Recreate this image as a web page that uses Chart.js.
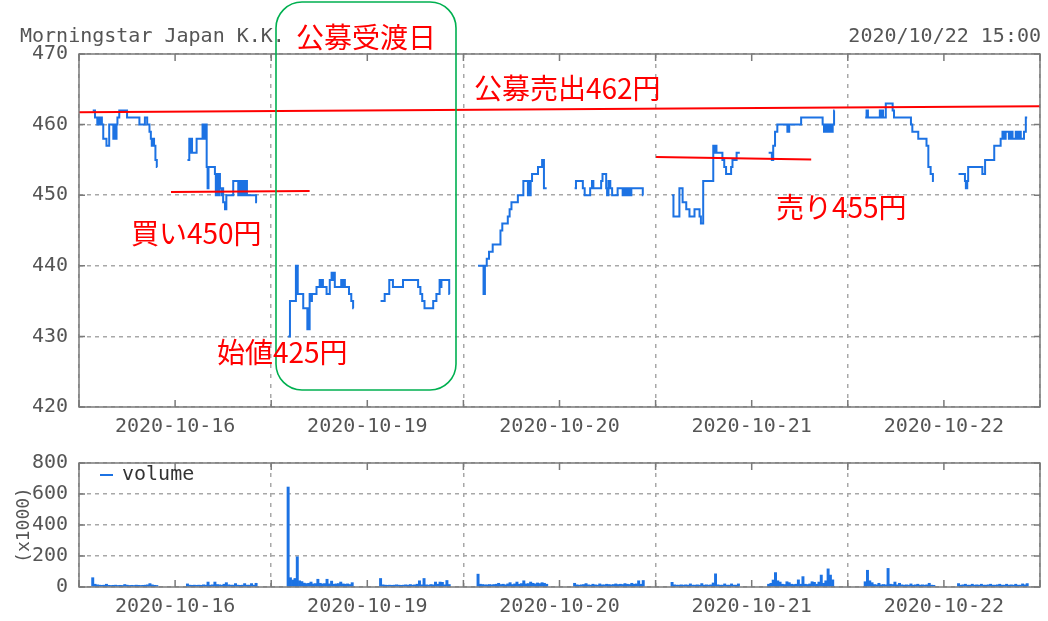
<!DOCTYPE html>
<html>
<head>
<meta charset="utf-8">
<script src="https://cdn.jsdelivr.net/npm/chart.js@4.4.1/dist/chart.umd.min.js"></script>
<style>
  html, body { margin: 0; padding: 0; background: #fff; }
  #wrap { position: relative; width: 1048px; height: 621px; overflow: hidden; }
  #priceChart { position: absolute; left: 0; top: 0; }
  #volumeChart { position: absolute; left: 0; top: 440px; }
</style>
</head>
<body>
<div id="wrap">
  <canvas id="priceChart" width="1048" height="440"></canvas>
  <canvas id="volumeChart" width="1048" height="181"></canvas>
</div>
<script>
// Days on the x axis (each day slot runs 08:30 - 15:30)
const dayLabels = ["2020-10-16", "2020-10-19", "2020-10-20", "2020-10-21", "2020-10-22"]

// Price steps per day, null = lunch break
const times1016 = ["09:00","09:05","09:10","09:12","09:14","09:16","09:20","09:23","09:30","09:36","09:45","09:48","09:50","09:52","09:54","09:58","10:15","10:42","10:54","10:59","11:04","11:07","11:09","11:12","11:14","11:17","11:20","11:21","12:00",
  "12:27","12:31","12:33","12:35","12:37","12:47","13:00","13:04","13:06","13:09","13:11","13:13","13:27","13:29","13:31","13:33","13:36","13:38","13:41","13:43","13:45","13:49","13:52","14:07","14:18","14:21","14:25","14:29","14:32","14:35","14:37","14:57","14:59"]
const prices1016 = [462,461,460,461,460,461,460,458,457,460,458,460,458,460,461,462,461,460,461,460,459,458,457,458,457,455,454,454,null,
  455,458,456,458,456,458,460,458,460,454,451,454,453,450,453,450,453,451,450,451,449,448,450,452,450,452,450,452,450,452,450,449,449]

const times1019 = ["09:07","09:11","09:24","09:25","09:27","09:28","09:40","09:49","09:51","09:53","09:54","09:57","09:59","10:09","10:16","10:18","10:20","10:23","10:31","10:38","10:42","10:44","10:47","10:49","11:03","11:06","11:08","11:11","11:20","11:25","11:29","11:30","12:00",
  "12:29","12:38","12:48","12:56","13:18","13:51","13:56","14:00","14:05","14:24","14:31","14:38","14:40","14:42","14:59","15:00"]
const prices1019 = [430,435,440,436,440,436,434,431,434,431,436,435,436,437,438,437,438,437,436,438,439,438,439,437,438,437,438,437,436,435,434,434,null,
  435,436,438,437,438,437,436,435,434,435,436,438,437,438,436,436]

const times1020 = ["09:02","09:14","09:17","09:21","09:26","09:34","09:51","09:55","10:07","10:11","10:15","10:29","10:41","10:51","10:53","10:55","10:57","11:00","11:13","11:22","11:23","11:24","11:26","11:32","12:00",
  "12:33","12:36","12:51","12:55","13:07","13:11","13:14","13:31","13:34","13:42","13:44","13:47","13:51","13:55","14:07","14:18","14:22","14:26","14:29","14:33","14:37","15:02","15:03"]
const prices1020 = [440,436,440,441,442,443,445,446,447,448,449,450,452,450,452,450,452,453,454,455,454,455,451,451,null,
  451,452,451,450,451,452,451,452,453,451,450,452,451,450,451,450,451,450,451,450,451,450,450]

const times1021 = ["09:06","09:09","09:22","09:29","09:37","09:44","09:55","10:06","10:09","10:14","10:36","10:39","10:41","10:43","10:56","11:00","11:04","11:15","11:18","11:27","11:34","12:00",
  "12:37","12:44","12:47","12:51","12:56","13:18","13:22","13:48","14:35","14:38","14:42","14:46","14:49","14:53","14:57","15:00","15:01"]
const prices1021 = [450,447,451,449,448,447,448,447,446,452,457,456,457,456,455,454,453,454,455,456,456,null,
  456,455,457,459,460,459,460,461,460,459,460,459,460,459,460,462,462]

const times1022 = ["09:08","09:11","09:14","09:40","09:43","09:45","09:47","09:53","10:08","10:11","10:48","10:51","11:04","11:22","11:26","11:31","11:36","11:38","12:00",
  "12:32","12:46","12:48","12:51","12:53","13:24","13:30","13:50","14:04","14:08","14:11","14:15","14:22","14:26","14:30","14:37","14:40","14:44","14:48","14:55","14:59","15:02"]
const prices1022 = [461,462,461,462,461,462,461,463,462,461,460,459,458,457,454,453,452,452,null,
  453,452,451,452,454,453,455,457,458,459,458,459,458,459,458,459,458,459,458,459,461,461]

// Volume (x1000), 5-minute bars from the first trade of each session
const vol1016am = [60,18,14,12,11,12,18,11,10,11,12,10,11,10,16,12,10,11,10,12,11,10,11,12,14,22,14,11,10]
const vol1016pm = [20,12,11,12,11,12,11,14,12,32,12,14,32,16,14,12,18,28,14,12,12,22,12,11,12,22,12,12,22,12,24]
const vol1019am = [645,60,45,55,195,40,35,25,22,24,32,20,22,50,24,20,22,50,20,38,18,20,22,32,20,18,20,16,28]
const vol1019pm = [55,14,12,11,12,11,12,14,12,11,12,14,12,16,12,14,18,40,14,55,14,12,16,14,32,18,32,30,14,42,16]
const vol1020am = [83,18,16,14,14,16,14,16,18,24,16,18,14,20,28,16,20,32,18,22,40,20,22,32,24,20,26,22,28,24,18]
const vol1020pm = [24,14,12,14,16,22,14,12,18,14,12,20,14,14,18,16,14,16,20,16,18,16,22,18,16,24,18,20,40,18,42]
const vol1021am = [30,14,12,12,14,12,14,12,20,12,12,14,12,22,12,14,12,14,26,85,14,12,12,20,12,12,20,12,12,20]
const vol1021pm = [18,24,45,93,40,32,18,16,34,28,18,16,18,46,18,67,18,16,20,34,30,18,32,77,24,40,117,77,46]
const vol1022am = [34,108,40,28,16,14,24,14,16,14,120,18,16,32,14,24,14,12,14,12,20,12,14,18,12,14,12,14,24,12,11]
const vol1022pm = [22,12,14,18,12,12,18,12,14,12,18,12,12,14,18,12,12,14,18,12,12,18,12,14,12,18,12,12,20,14,22]

// Hand-drawn annotation lines, [x in minutes, price]
const offerLine = [[0, 461.75], [2100, 462.6]]
const buyLine = [[201, 450.45], [504, 450.6]]
const sellLine = [[1261, 455.4], [1600, 455.05]]

const priceTimes = [times1016, times1019, times1020, times1021, times1022]
const priceValues = [prices1016, prices1019, prices1020, prices1021, prices1022]
const volumeValues = [[vol1016am, vol1016pm], [vol1019am, vol1019pm], [vol1020am, vol1020pm], [vol1021am, vol1021pm], [vol1022am, vol1022pm]]

const BLUE = "#1c72e3"
const TEXT = "#555"
const MONO = '"DejaVu Sans Mono", monospace'

const toX = (day, hhmm) => {
  const [h, m] = hhmm.split(":").map(Number)
  return day * 420 + h * 60 + m - 510
}

const priceData = []
priceValues.forEach((prices, d) => {
  prices.forEach((p, i) => priceData.push({ x: toX(d, priceTimes[d][i]), y: p }))
  priceData.push({ x: d * 420 + 410, y: null })
})

const volumeData = []
volumeValues.forEach((sessions, d) => {
  const times = priceTimes[d]
  const starts = [times[0], times[times.indexOf("12:00") + 1]]
  sessions.forEach((vals, s) => {
    vals.forEach((v, i) => volumeData.push({ x: toX(d, starts[s]) + i * 5, y: v }))
  })
})

const toPoints = (line) => line.map(([x, y]) => ({ x, y }))

// frame and inward ticks, drawn on all four sides
const framePlugin = {
  id: "frame",
  afterDraw(chart) {
    const { ctx, chartArea: a, scales } = chart
    ctx.save()
    ctx.strokeStyle = "#7a7a7a"
    ctx.lineWidth = 1.5
    ctx.strokeRect(a.left, a.top, a.right - a.left, a.bottom - a.top)
    ctx.beginPath()
    scales.x.ticks.forEach((t) => {
      const px = scales.x.getPixelForValue(t.value)
      ctx.moveTo(px, a.bottom); ctx.lineTo(px, a.bottom - 7)
      ctx.moveTo(px, a.top); ctx.lineTo(px, a.top + 7)
    })
    scales.y.ticks.forEach((t) => {
      const py = scales.y.getPixelForValue(t.value)
      ctx.moveTo(a.left, py); ctx.lineTo(a.left + 6, py)
      ctx.moveTo(a.right, py); ctx.lineTo(a.right - 6, py)
    })
    ctx.stroke()
    ctx.restore()
  },
}

const notesPlugin = {
  id: "notes",
  afterDraw(chart) {
    const { ctx } = chart
    ctx.save()
    ctx.font = "20px " + MONO
    ctx.fillStyle = TEXT
    ctx.textBaseline = "alphabetic"
    ctx.fillText("Morningstar Japan K.K.", 20, 42)
    ctx.textAlign = "right"
    ctx.fillText("2020/10/22 15:00", 1041, 42)

    ctx.strokeStyle = "#00b050"
    ctx.lineWidth = 1.6
    ctx.beginPath()
    ctx.roundRect(276, 2, 180, 388, 26)
    ctx.stroke()

    ctx.fillStyle = "#ff0000"
    ctx.textAlign = "left"
    ctx.textBaseline = "middle"
    ctx.font = '28px "Noto Sans CJK JP"'
    ctx.fillText("公募受渡日", 296, 37)
    ctx.fillText("公募売出462円", 474, 88)
    ctx.fillText("買い450円", 131, 233)
    ctx.fillText("始値425円", 217, 352)
    ctx.fillText("売り455円", 776, 207)
    ctx.restore()
  },
}

const legendPlugin = {
  id: "insideLegend",
  afterDraw(chart) {
    const { ctx } = chart
    ctx.save()
    ctx.strokeStyle = BLUE
    ctx.lineWidth = 2
    ctx.beginPath()
    ctx.moveTo(100, 35); ctx.lineTo(113, 35)
    ctx.stroke()
    ctx.font = "20px " + MONO
    ctx.fillStyle = "#333"
    ctx.textBaseline = "middle"
    ctx.fillText("volume", 122, 35)
    ctx.restore()
  },
}

const xAxis = (height) => ({
  type: "linear",
  min: 0,
  max: 2100,
  offset: false,
  afterFit: (scale) => { scale.height = height },
  grid: {
    drawTicks: false,
    offset: false,
    lineWidth: 1.5,
    color: (c) => (c.tick && c.tick.value % 420 === 0 ? "#a8a8a8" : "rgba(0,0,0,0)"),
  },
  border: { display: false, dash: [4, 6] },
  ticks: {
    stepSize: 210,
    autoSkip: false,
    maxRotation: 0,
    padding: 8,
    color: TEXT,
    font: { family: MONO, size: 20 },
    callback: (v) => (v % 420 === 210 ? dayLabels[(v - 210) / 420] : ""),
  },
})

const yGrid = { drawTicks: false, lineWidth: 1.5, color: "#a8a8a8" }

new Chart(document.getElementById("priceChart"), {
  type: "line",
  data: {
    datasets: [
      { data: toPoints(offerLine), borderColor: "#ff0000", borderWidth: 2, pointRadius: 0 },
      { data: toPoints(buyLine), borderColor: "#ff0000", borderWidth: 2, pointRadius: 0 },
      { data: toPoints(sellLine), borderColor: "#ff0000", borderWidth: 2, pointRadius: 0 },
      { data: priceData, borderColor: BLUE, borderWidth: 2, pointRadius: 0, stepped: true, spanGaps: false },
    ],
  },
  options: {
    responsive: false,
    animation: false,
    layout: { padding: { left: 0, right: 7, top: 54, bottom: 0 } },
    plugins: { legend: { display: false }, tooltip: { enabled: false } },
    scales: {
      x: xAxis(33),
      y: {
        min: 420,
        max: 470,
        afterFit: (scale) => { scale.width = 79 },
        grid: yGrid,
        border: { display: false, dash: [4, 4] },
        ticks: { stepSize: 10, padding: 11, color: TEXT, font: { family: MONO, size: 20 } },
      },
    },
  },
  plugins: [framePlugin, notesPlugin],
})

new Chart(document.getElementById("volumeChart"), {
  type: "bar",
  data: {
    datasets: [
      { label: "volume", data: volumeData, backgroundColor: BLUE, barThickness: 2.3, grouped: false },
    ],
  },
  options: {
    responsive: false,
    animation: false,
    layout: { padding: { left: 0, right: 7, top: 15, bottom: 0 } },
    plugins: { legend: { display: false }, tooltip: { enabled: false } },
    scales: {
      x: xAxis(34),
      y: {
        min: 0,
        max: 800,
        afterFit: (scale) => { scale.width = 79 },
        grid: yGrid,
        border: { display: false, dash: [4, 4] },
        title: { display: true, text: "(x1000)", color: TEXT, font: { family: MONO, size: 18 }, padding: { top: 14, bottom: 0 } },
        ticks: { stepSize: 200, padding: 11, color: TEXT, font: { family: MONO, size: 20 } },
      },
    },
  },
  plugins: [framePlugin, legendPlugin],
})
</script>
</body>
</html>
